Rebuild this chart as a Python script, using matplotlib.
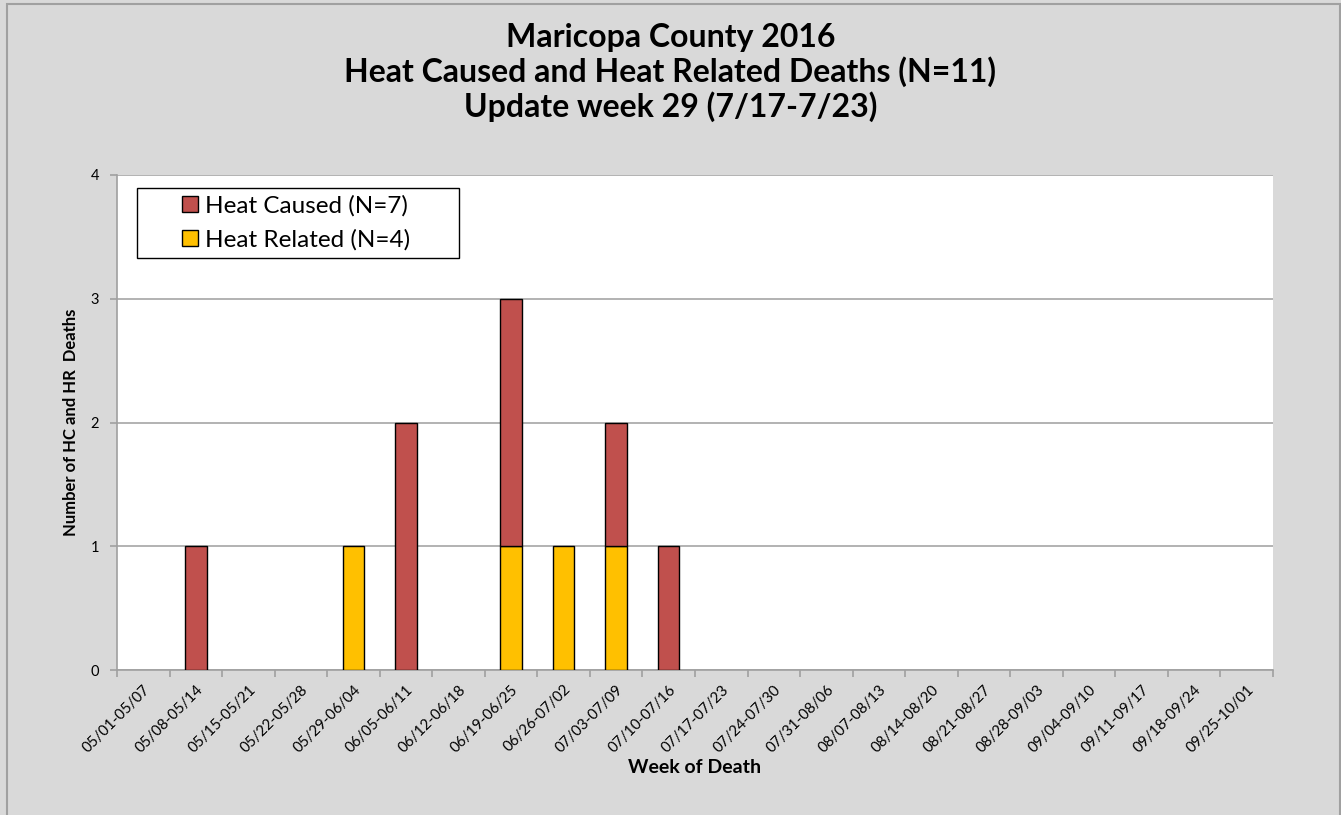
import matplotlib.pyplot as plt
from matplotlib.patches import Patch, Rectangle
import numpy as np

WEEKS = [
    "05/01-05/07", "05/08-05/14", "05/15-05/21", "05/22-05/28", "05/29-06/04",
    "06/05-06/11", "06/12-06/18", "06/19-06/25", "06/26-07/02", "07/03-07/09",
    "07/10-07/16", "07/17-07/23", "07/24-07/30", "07/31-08/06", "08/07-08/13",
    "08/14-08/20", "08/21-08/27", "08/28-09/03", "09/04-09/10", "09/11-09/17",
    "09/18-09/24", "09/25-10/01",
]
HEAT_RELATED = [0, 0, 0, 0, 1, 0, 0, 1, 1, 1, 0, 0, 0, 0, 0, 0, 0, 0, 0, 0, 0, 0]
HEAT_CAUSED = [0, 1, 0, 0, 0, 2, 0, 2, 0, 1, 1, 0, 0, 0, 0, 0, 0, 0, 0, 0, 0, 0]
Y_TICKS = [0, 1, 2, 3, 4]

RED = "#C0504D"
GOLD = "#FFC000"

plt.rcParams["font.family"] = ["Lato", "DejaVu Sans"]

W, H = 1341, 815
fig = plt.figure(figsize=(W / 100, H / 100), dpi=100)
fig.patch.set_facecolor("#D9D9D9")
# outer chart border (runs off the bottom of the image in the original)
fig.patches.append(Rectangle((7 / W, -0.05), (1340 - 7) / W, 1.05 - 4 / H,
                             transform=fig.transFigure, fill=False,
                             edgecolor="#A0A0A0", linewidth=1.5))

ax = fig.add_axes([117 / W, 1 - 670 / H, (1273 - 117) / W, (670 - 175) / H])
ax.set_facecolor("white")

x = np.arange(len(WEEKS))
hr = np.array(HEAT_RELATED)
hc = np.array(HEAT_CAUSED)
ax.bar(x, hr, 0.41, color=GOLD, edgecolor="black",
       linewidth=np.where(hr > 0, 1.0, 0.0), zorder=3)
ax.bar(x, hc, 0.41, bottom=hr, color=RED, edgecolor="black",
       linewidth=np.where(hc > 0, 1.0, 0.0), zorder=3)

ax.set_xlim(-0.5, len(WEEKS) - 0.5)
ax.set_ylim(0, 4)
ax.set_yticks(Y_TICKS)
ax.yaxis.grid(True, color="#A6A6A6", linewidth=1.2, zorder=0)
ax.set_axisbelow(True)
for side in ("top", "right"):
    ax.spines[side].set_visible(False)
for side in ("left", "bottom"):
    ax.spines[side].set_color("#A0A0A0")
    ax.spines[side].set_linewidth(1.2)

ax.set_xticks(x, WEEKS, rotation=45, ha="right", rotation_mode="anchor", fontsize=10.8)
ax.set_xticks(np.arange(len(WEEKS) + 1) - 0.5, minor=True)
ax.tick_params(axis="x", which="major", length=0, pad=9)
ax.tick_params(axis="x", which="minor", length=5, color="#A0A0A0", width=1.2)
ax.tick_params(axis="y", length=5, color="#A0A0A0", width=1.2, labelsize=10.5, pad=8)

ax.set_xlabel("Week of Death", fontsize=14, fontweight="bold", labelpad=3)
ax.set_ylabel("Number of HC and HR  Deaths", fontsize=12, fontweight="bold",
              labelpad=8)

# legend frame is wider than its contents, so draw it separately
ax.add_patch(Rectangle(((137 - 117) / 1156, (670 - 258) / 495), 322 / 1156, 70 / 495,
                       transform=ax.transAxes, facecolor="white", edgecolor="black",
                       linewidth=1.0, zorder=5))
handles = [Patch(facecolor=RED, edgecolor="black", linewidth=1.0),
           Patch(facecolor=GOLD, edgecolor="black", linewidth=1.0)]
labels = ["Heat Caused (N=7)", "Heat Related (N=4)"]
leg = ax.legend(handles, labels, loc="upper left",
                bbox_to_anchor=((182 - 117) / 1156, (670 - 195) / 495), fontsize=17.5,
                frameon=False, handlelength=0.66, handleheight=0.66,
                handletextpad=0.28, borderpad=0, labelspacing=0.52, borderaxespad=0)
leg.set_zorder(6)

fig.text(0.5, 1 - 37 / H, "Maricopa County 2016", ha="center", va="center",
         fontsize=23, fontweight="bold")
fig.text(0.5, 1 - 72 / H, "Heat Caused and Heat Related Deaths (N=11)",
         ha="center", va="center", fontsize=23, fontweight="bold")
fig.text(0.5, 1 - 107 / H, "Update week 29 (7/17-7/23)", ha="center",
         va="center", fontsize=23, fontweight="bold")

fig.savefig("out.png", dpi=100, facecolor=fig.get_facecolor())
